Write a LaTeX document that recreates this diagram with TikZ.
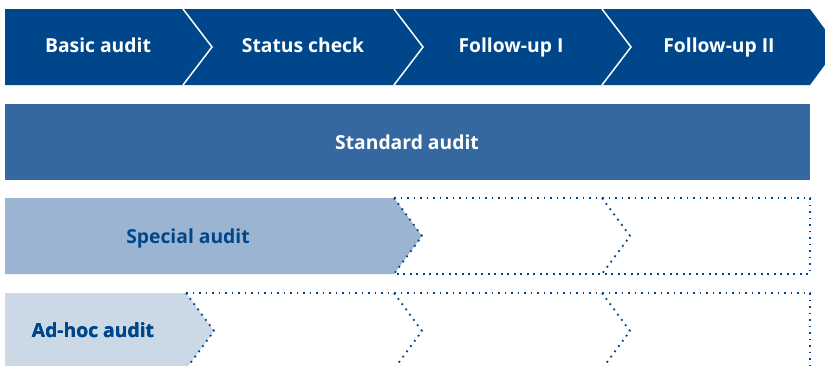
\documentclass[tikz,border=0pt]{standalone}
\usepackage{fontspec}
\setmainfont{Open Sans}
\usepackage{xcolor}
\usetikzlibrary{calc}
\definecolor{auditdark}{RGB}{0,70,139}
\definecolor{auditmid}{RGB}{53,104,160}
\definecolor{auditlight}{RGB}{154,180,209}
\definecolor{auditpale}{RGB}{203,217,231}
\tikzset{
	dotted frame/.style={auditdark, line width=1.8pt, dash pattern=on 1.8pt off 4.7pt},
	bartext/.style={font=\bfseries\fontsize{19.3}{21}\selectfont, inner sep=0pt, anchor=base}
}
\tikzstyle{onDark}=[bartext, text=white]
\tikzstyle{onLight}=[bartext, text=auditdark]
% chevron: fill colour, left x, notch x, top y
\newcommand{\auditchevron}[4]{
	\fill[#1] (#2,#4) -- (#3,#4) -- (#3+28,#4+38) -- (#3,#4+76) -- (#2,#4+76) -- cycle;
}
% dotted chevron edge at x, top y
\newcommand{\dottedtip}[2]{
	\draw[dotted frame] (#1,#2) -- (#1+28,#2+38) -- (#1,#2+76);
}

\begin{document}
\begin{tikzpicture}[x=1pt, y=-1pt]
	\useasboundingbox (0,0) rectangle (825,365);
	\clip (0,0) rectangle (825,365);
%
	\auditchevron{auditdark}{5}{810}{9}
	\foreach \x in {183,394,602}
		\draw[white, line width=1.5pt] (\x,9) -- (\x+29,47) -- (\x,85);
	\node[onDark] (basic) at (98,52.5) {Basic audit};
	\node[onDark] (status) at (303,52.5) {Status check};
	\node[onDark] (follow1) at (511,52.5) {Follow-up I};
	\node[onDark] (follow2) at (719,52.5) {Follow-up II};
%
	\fill[auditmid] (5,104) rectangle (810,180);
	\node[onDark] (standard) at (407,149) {Standard audit};
%
	\auditchevron{auditlight}{5}{394}{198}
	\draw[dotted frame] (394,198) -- (810,198) -- (810,274) -- (394,274);
	\dottedtip{394}{198}
	\dottedtip{602}{198}
	\node[onLight] (special) at (188,243.3) {Special audit};
%
	\auditchevron{auditpale}{5}{186}{293}
	\draw[dotted frame] (186,293) -- (810,293) -- (810,369);
	\foreach \x in {186,394,602}
		\dottedtip{\x}{293}
	\node[onLight] (adhoc) at (93,337.3) {Ad-hoc audit};
\end{tikzpicture}
\end{document}
